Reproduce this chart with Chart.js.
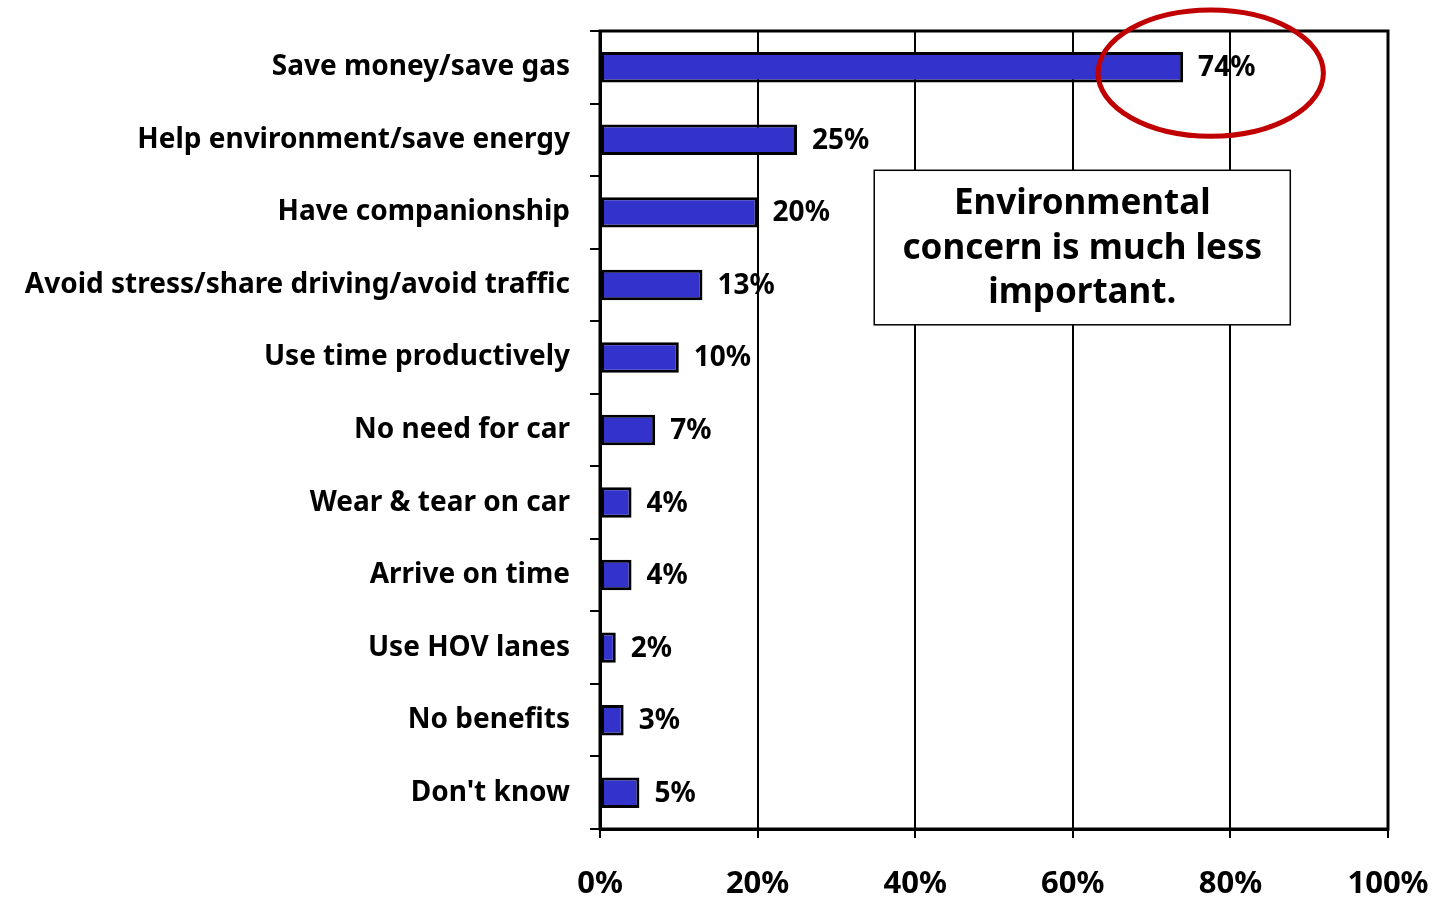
<!DOCTYPE html>
<html>
<head>
<meta charset="utf-8">
<script src="https://cdn.jsdelivr.net/npm/chart.js@4"></script>
<style>
  html, body { margin: 0; padding: 0; background: #fff; }
  #wrap { width: 1449px; height: 899px; }
</style>
</head>
<body>
<div id="wrap"><canvas id="myChart" width="1449" height="899"></canvas></div>
<script>
const motivos = ["Save money/save gas", "Help environment/save energy", "Have companionship",
    "Avoid stress/share driving/avoid traffic", "Use time productively", "No need for car",
    "Wear & tear on car", "Arrive on time", "Use HOV lanes", "No benefits", "Don't know"]
const porcentajes = [74, 25, 20, 13, 10, 7, 4, 4, 2, 3, 5]
const ticksX = [0, 20, 40, 60, 80, 100]
const notaLineas = ["Environmental", "concern is much less", "important."]

const fuente = "'Noto Sans', 'DejaVu Sans', sans-serif"

function sinPadding(s) {
    s.paddingTop = 0
    s.paddingBottom = 0
    s.paddingLeft = 0
    s.paddingRight = 0
}

// etiquetas, marco, recuadro y elipse
const extras = {
    id: 'extras',
    afterDatasetsDraw(chart) {
        const ctx = chart.ctx
        const area = chart.chartArea
        const x = chart.scales.x
        const y = chart.scales.y

        ctx.save()
        ctx.strokeStyle = '#000'
        ctx.lineWidth = 3
        ctx.strokeRect(area.left, area.top, area.right - area.left, area.bottom - area.top)

        ctx.fillStyle = '#000'
        ctx.font = 'bold 28px ' + fuente
        ctx.textBaseline = 'middle'
        ctx.textAlign = 'left'
        porcentajes.forEach((v, i) => {
            ctx.fillText(v + '%', x.getPixelForValue(v) + 15, y.getPixelForValue(i) + 1)
        })

        // recuadro de nota
        const bx = x.getPixelForValue(34.8), bx2 = x.getPixelForValue(87.6)
        const by = y.getPixelForValue(1.42), by2 = y.getPixelForValue(3.55)
        ctx.fillStyle = '#fff'
        ctx.fillRect(bx, by, bx2 - bx, by2 - by)
        ctx.lineWidth = 1.5
        ctx.strokeRect(bx, by, bx2 - bx, by2 - by)
        ctx.fillStyle = '#000'
        ctx.font = 'bold 35px ' + fuente
        ctx.textAlign = 'center'
        notaLineas.forEach((t, i) => {
            ctx.fillText(t, (bx + bx2) / 2, by + 34 + i * 44.5)
        })

        // elipse roja
        const cx = x.getPixelForValue(77.5), cy = y.getPixelForValue(0.08)
        const rx = x.getPixelForValue(91.8) - cx
        const ry = y.getPixelForValue(0.95) - cy
        ctx.beginPath()
        ctx.ellipse(cx, cy, rx, ry, 0, 0, Math.PI * 2)
        ctx.strokeStyle = '#C00000'
        ctx.lineWidth = 5
        ctx.stroke()
        ctx.restore()
    }
}

const data = {
    labels: motivos,
    datasets: [{
        data: porcentajes,
        backgroundColor: '#3333CC',
        borderColor: '#000',
        borderWidth: 3,
        borderSkipped: false,
        categoryPercentage: 1,
        barPercentage: 0.42
    }]
}

const config = {
    type: 'bar',
    data: data,
    plugins: [extras],
    options: {
        indexAxis: 'y',
        responsive: false,
        animation: false,
        layout: { padding: { left: 0, right: 61, top: 31, bottom: 0 } },
        plugins: { legend: { display: false }, tooltip: { enabled: false } },
        scales: {
            x: {
                min: 0,
                max: 100,
                afterBuildTicks: s => { s.ticks = ticksX.map(v => ({ value: v })) },
                afterFit: s => { s.height = 70; sinPadding(s) },
                grid: { color: '#000', lineWidth: 2, tickLength: 9, tickColor: '#000' },
                border: { color: '#000', width: 3 },
                ticks: {
                    color: '#000',
                    padding: 28,
                    font: { family: fuente, size: 31, weight: 'bold' },
                    callback: v => v + '%'
                }
            },
            y: {
                afterFit: s => { s.width = 600; sinPadding(s) },
                grid: { offset: true, drawOnChartArea: false, tickLength: 10, tickColor: '#000', lineWidth: 2 },
                border: { color: '#000', width: 3 },
                ticks: {
                    color: '#000',
                    padding: 20,
                    autoSkip: false,
                    font: { family: fuente, size: 28, weight: 'bold' }
                }
            }
        }
    }
}

const myChart = new Chart(document.getElementById('myChart'), config)
</script>
</body>
</html>
